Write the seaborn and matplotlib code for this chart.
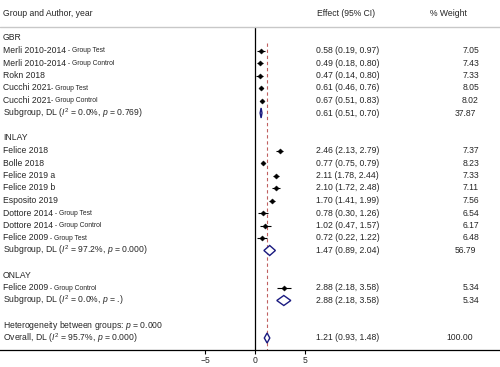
import numpy as np
import pandas as pd
import matplotlib
matplotlib.use("Agg")
import matplotlib.pyplot as plt
import seaborn as sns
from matplotlib.patches import Polygon

sns.set_theme(style="white")
plt.rcParams['font.family'] = ['Liberation Sans', 'DejaVu Sans']
plt.rcParams['mathtext.fontset'] = 'custom'
plt.rcParams['mathtext.rm'] = 'Liberation Sans'
plt.rcParams['mathtext.it'] = 'Liberation Sans:italic'

# study rows: label, suffix, effect, lower, upper, weight, row position
study_names = ["Merli 2010-2014", "Merli 2010-2014", "Rokn 2018", "Cucchi 2021", "Cucchi 2021",
               "Felice 2018", "Bolle 2018", "Felice 2019 a", "Felice 2019 b", "Esposito 2019",
               "Dottore 2014", "Dottore 2014", "Felice 2009",
               "Felice 2009"]
study_suffix = [" - Group Test", " - Group Control", "", "- Group Test", "- Group Control",
                "", "", "", "", "",
                " - Group Test", " - Group Control", " - Group Test",
                " - Group Control"]
study_es = [0.58, 0.49, 0.47, 0.61, 0.67,
            2.46, 0.77, 2.11, 2.10, 1.70, 0.78, 1.02, 0.72,
            2.88]
study_lo = [0.19, 0.18, 0.14, 0.46, 0.51,
            2.13, 0.75, 1.78, 1.72, 1.41, 0.30, 0.47, 0.22,
            2.18]
study_hi = [0.97, 0.80, 0.80, 0.76, 0.83,
            2.79, 0.79, 2.44, 2.48, 1.99, 1.26, 1.57, 1.22,
            3.58]
study_wt = ["7.05", "7.43", "7.33", "8.05", "8.02",
            "7.37", "8.23", "7.33", "7.11", "7.56", "6.54", "6.17", "6.48",
            "5.34"]
study_row = [1, 2, 3, 4, 5,
             9, 10, 11, 12, 13, 14, 15, 16,
             20]

# pooled rows
group_names = ["GBR", "INLAY", "ONLAY"]
group_rows = [0, 8, 19]
pooled_labels = [r"Subgroup, DL ($I^2$ = 0.0%, $p$ = 0.769)",
                 r"Subgroup, DL ($I^2$ = 97.2%, $p$ = 0.000)",
                 r"Subgroup, DL ($I^2$ = 0.0%, $p$ = .)",
                 r"Overall, DL ($I^2$ = 95.7%, $p$ = 0.000)"]
pooled_es = [0.61, 1.47, 2.88, 1.21]
pooled_lo = [0.51, 0.89, 2.18, 0.93]
pooled_hi = [0.70, 2.04, 3.58, 1.48]
pooled_wt = ["37.87", "56.79", "5.34", "100.00"]
pooled_row = [6, 17, 21, 24]
overall_es = 1.21

df = pd.DataFrame({"name": study_names, "es": study_es, "lo": study_lo,
                   "hi": study_hi, "row": study_row})

fig = plt.figure(figsize=(5, 3.67), dpi=100)
ax = fig.add_axes([0, 17 / 367, 1, 350 / 367])
ax.set_xlim(-25.5, 24.5)
ax.set_ylim(24.96, -3.04)

fs = 6.2
small = 4.9
navy = "#1a1a80"

# reference lines
ax.plot([0, 0], [-0.88, 25], color="black", lw=0.9, zorder=2)
ax.plot([overall_es, overall_es], [0.4, 25], color="#c06060", lw=0.8,
        ls=(0, (3, 2.5)), zorder=1)
ax.plot([-25.5, 24.5], [-0.88, -0.88], color="#c8c8c8", lw=1, clip_on=False)

# CIs and point estimates
ax.hlines(df["row"], df["lo"], df["hi"], color="black", lw=0.8, zorder=3)
sns.scatterplot(data=df, x="es", y="row", ax=ax, color="black", marker="D",
                s=7, edgecolor="black", linewidth=0.3, zorder=4, legend=False)

# diamonds
for es, lo, hi, r in zip(pooled_es, pooled_lo, pooled_hi, pooled_row):
    h = 0.4
    ax.add_patch(Polygon([[lo, r], [es, r - h], [hi, r], [es, r + h]],
                         closed=True, facecolor="white", edgecolor=navy,
                         lw=1.0, zorder=4))

# header
ax.text(-25.2, -2.0, "Group and Author, year", fontsize=fs, va="center")
ax.text(6.2, -2.0, "Effect (95% CI)", fontsize=fs, va="center")
ax.text(21.2, -2.0, "% Weight", fontsize=fs, va="center", ha="right")

for g, r in zip(group_names, group_rows):
    ax.text(-25.2, r, g, fontsize=fs, va="center")

for i in range(len(df)):
    t = ax.text(-25.2, study_row[i], study_names[i], fontsize=fs, va="center")
    if study_suffix[i]:
        ax.annotate(study_suffix[i], xy=(1, 0.45), xycoords=t, fontsize=small,
                    va="center", ha="left")
    ax.text(6.1, study_row[i], f"{study_es[i]:.2f} ({study_lo[i]:.2f}, {study_hi[i]:.2f})",
            fontsize=fs, va="center")
    ax.text(22.4, study_row[i], study_wt[i], fontsize=fs, va="center", ha="right")

wt_x = [22.1, 22.1, 22.4, 21.8]
for i in range(len(pooled_es)):
    ax.text(-25.2, pooled_row[i], pooled_labels[i], fontsize=fs, va="center")
    ax.text(6.1, pooled_row[i], f"{pooled_es[i]:.2f} ({pooled_lo[i]:.2f}, {pooled_hi[i]:.2f})",
            fontsize=fs, va="center")
    ax.text(wt_x[i], pooled_row[i], pooled_wt[i], fontsize=fs, va="center", ha="right")

ax.text(-25.2, 23, r"Heterogeneity between groups: $p$ = 0.000", fontsize=fs, va="center")

# axes styling
for s in ["top", "left", "right"]:
    ax.spines[s].set_visible(False)
ax.spines["bottom"].set_color("black")
ax.spines["bottom"].set_linewidth(0.9)
ax.set_yticks([])
ax.set_xticks([-5, 0, 5])
ax.set_xticklabels(["\u22125", "0", "5"])
ax.tick_params(axis="x", bottom=True, length=3, width=0.8, pad=1.5,
               labelsize=fs, color="black")
ax.set_xlabel("")
ax.set_ylabel("")

fig.savefig("out.png", dpi=100)
